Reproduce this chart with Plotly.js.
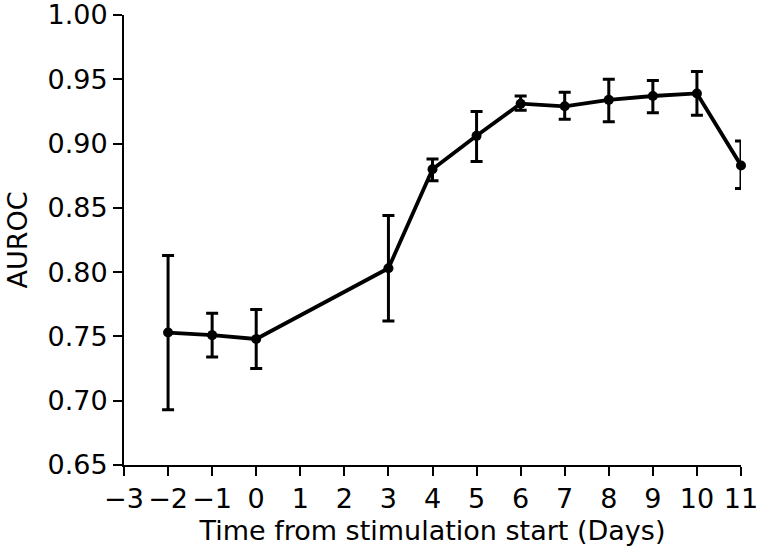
<!DOCTYPE html>
<html>
<head>
<meta charset="utf-8">
<script src="https://cdn.plot.ly/plotly-3.0.1.min.js"></script>
<style>html,body{margin:0;padding:0;background:#fff;}#chart{width:760px;height:553px;}</style>
</head>
<body>
<div id="chart"></div>
<script>
const days = [-2, -1, 0, 3, 4, 5, 6, 7, 8, 9, 10, 11];
const auroc = [0.753, 0.751, 0.748, 0.803, 0.880, 0.906, 0.931, 0.929, 0.934, 0.937, 0.939, 0.883];
const upper = [0.813, 0.768, 0.771, 0.844, 0.888, 0.925, 0.937, 0.940, 0.950, 0.949, 0.956, 0.902];
const lower = [0.693, 0.734, 0.725, 0.762, 0.871, 0.886, 0.926, 0.919, 0.917, 0.924, 0.922, 0.865];
const xTicks = [-3, -2, -1, 0, 1, 2, 3, 4, 5, 6, 7, 8, 9, 10, 11];
const yTicks = [0.65, 0.70, 0.75, 0.80, 0.85, 0.90, 0.95, 1.00];

const errPlus = auroc.map((v, i) => upper[i] - v);
const errMinus = auroc.map((v, i) => v - lower[i]);

const font = {family: 'DejaVu Sans', size: 27, color: '#000'};

Plotly.newPlot('chart', [{
  x: days, y: auroc, type: 'scatter', mode: 'lines+markers',
  line: {color: '#000', width: 3.8},
  marker: {color: '#000', size: 10},
  cliponaxis: false,
  error_y: {type: 'data', symmetric: false, array: errPlus, arrayminus: errMinus,
            color: '#000', thickness: 3, width: 6}
}], {
  width: 760, height: 553,
  margin: {l: 124, r: 19, t: 15, b: 88},
  paper_bgcolor: '#fff', plot_bgcolor: '#fff',
  showlegend: false,
  font: font,
  xaxis: {
    range: [-3, 11], tickmode: 'array', tickvals: xTicks,
    ticktext: xTicks.map(v => v < 0 ? '\u2212' + Math.abs(v) : String(v)),
    showgrid: false, zeroline: false, showline: true, linecolor: '#000', linewidth: 2,
    ticks: 'outside', ticklen: 9, tickwidth: 2, tickcolor: '#000',
    tickfont: font, ticklabeloverflow: 'allow',
    title: {text: 'Time from stimulation start (Days)', font: font, standoff: 8}
  },
  yaxis: {
    range: [0.65, 1.00], tickmode: 'array', tickvals: yTicks,
    ticktext: yTicks.map(v => v.toFixed(2)),
    showgrid: false, zeroline: false, showline: true, linecolor: '#000', linewidth: 2,
    ticks: 'outside', ticklen: 9, tickwidth: 2, tickcolor: '#000',
    tickfont: font, ticklabeloverflow: 'allow',
    title: {text: 'AUROC', font: font, standoff: 12}
  }
}, {displayModeBar: false, staticPlot: true});
</script>
</body>
</html>
